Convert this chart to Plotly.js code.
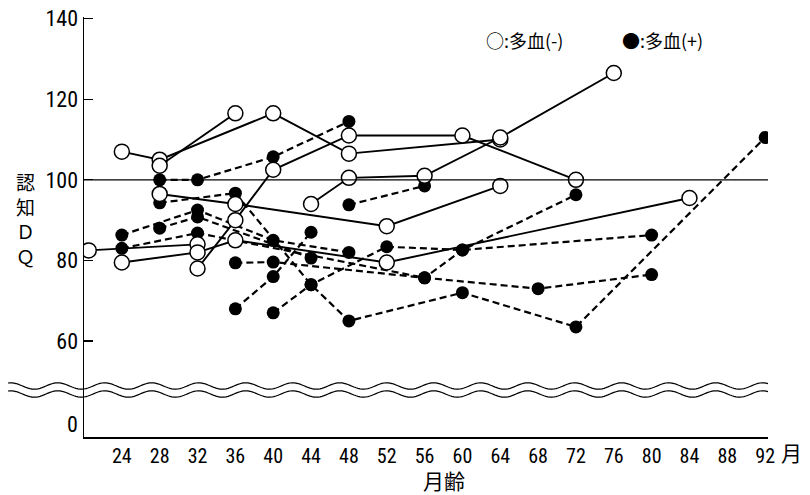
<!DOCTYPE html>
<html><head><meta charset="utf-8">
<script src="https://cdn.plot.ly/plotly-3.0.1.min.js"></script>
<style>body{margin:0;background:#fff}#c{width:810px;height:495px}</style>
</head><body><div id="c"></div>
<script>
// x tick labels (months) and y tick labels
const xTicks = [24,28,32,36,40,44,48,52,56,60,64,68,72,76,80,84,88,92];
const yTicks = [60,80,100,120,140];
const zeroLabelPos = 39.2;   // where the broken-axis "0" label sits
const refLine = 100;

// 多血(-) : open circles, solid lines
const n1x = [24,28,40,48,64],        n1y = [107,105,116.5,106.5,110];
const n2x = [28,36],                 n2y = [103.5,116.5];
const n3x = [32,36,40,48,60,72],     n3y = [78,90,102.5,111,111,100];
const n4x = [44,48,56,64,76],        n4y = [94,100.5,101,110.5,126.5];
const n5x = [28,36,52,64],           n5y = [96.5,94,88.5,98.5];
const n6x = [20.5,32],               n6y = [82.5,84];
const n7x = [24,32,36,52,84],        n7y = [79.5,82,85,79.5,95.5];

// 多血(+) : filled circles, dashed lines
const p1x = [28,32,40,48],           p1y = [100,100,105.7,114.5];
const p2x = [28,36,44,48,60,72,92],  p2y = [94.3,96.7,74,65,72,63.5,110.5];
const p3x = [40,44,52,60,80],        p3y = [67,74,83.4,82.6,86.3];
const p4x = [48,56],                 p4y = [93.8,98.5];
const p5x = [36,40,56,60,72],        p5y = [79.4,79.6,75.7,82.6,96.3];
const p6x = [36,40,44],              p6y = [68,76,87];
const p7x = [24,32,40,48],           p7y = [86.3,92.5,85,82];
const p8x = [24,32,56,68,80],        p8y = [83,86.8,75.7,73,76.5];
const p9x = [28,32,44],              p9y = [88,90.8,80.6];

const negSeries = [[n1x,n1y],[n2x,n2y],[n3x,n3y],[n4x,n4y],[n5x,n5y],[n6x,n6y],[n7x,n7y]];
const posSeries = [[p1x,p1y],[p2x,p2y],[p3x,p3y],[p4x,p4y],[p5x,p5y],[p6x,p6y],[p7x,p7y],[p8x,p8y],[p9x,p9y]];

const traces = [];
posSeries.forEach(([x,y]) => traces.push({
  x, y, type:'scatter', mode:'lines+markers', showlegend:false, hoverinfo:'skip',
  line:{color:'#000', width:2.2, dash:'7px,4px'},
  marker:{symbol:'circle', size:13, color:'#000'}
}));
negSeries.forEach(([x,y]) => traces.push({
  x, y, type:'scatter', mode:'lines+markers', showlegend:false, hoverinfo:'skip',
  line:{color:'#000', width:1.9},
  marker:{symbol:'circle', size:15, color:'#fff', line:{color:'#000', width:1.5}}
}));

// plot box in pixels: left 84, right 768, top 17, bottom 437
const L=84, R=768, T=17, B=437;
const px = v => (v-L)/(R-L), py = v => (B-v)/(B-T);
function wave(y0){
  let d='';
  for(let x=8; x<=768; x+=2){
    const y = y0 - 3.2*Math.sin((x-8)/47*2*Math.PI + 1.2);
    d += (d?' L ':'M ') + px(x).toFixed(5)+','+py(y).toFixed(5);
  }
  return d;
}

const narrow = '"Liberation Sans Narrow", "Roboto Condensed", "DejaVu Sans Condensed", "Liberation Sans", sans-serif';
const cjk = '"Noto Sans CJK JP", sans-serif';
function ann(text, x, y, size, fam, xa){
  return {text, xref:'paper', yref:'paper', x:px(x), y:py(y), xanchor:xa||'center', yanchor:'middle',
    showarrow:false, font:{family:fam, size, color:'#000'}};
}

const layout = {
  width:810, height:495,
  margin:{l:L, r:810-R, t:T, b:495-B},
  paper_bgcolor:'#fff', plot_bgcolor:'#fff',
  showlegend:false,
  xaxis:{range:[20,92.3], tickvals:xTicks, ticktext:xTicks.map(String),
    showline:true, linecolor:'#000', linewidth:1.5, ticks:'', showgrid:false, zeroline:false,
    tickfont:{family:narrow, size:20, color:'#000'}},
  yaxis:{range:[36.2,140.4], tickvals:yTicks, ticktext:yTicks.map(String),
    showline:true, linecolor:'#000', linewidth:1.5, ticks:'inside', ticklen:9, tickwidth:1.3, tickcolor:'#000',
    showgrid:false, zeroline:false, tickfont:{family:narrow, size:22, color:'#000'}},
  shapes:[
    {type:'line', xref:'paper', x0:0, x1:1, yref:'y', y0:refLine, y1:refLine, line:{color:'#000', width:1.1}},
    {type:'path', xref:'paper', yref:'paper', path:wave(386), line:{color:'#000', width:1.2}},
    {type:'path', xref:'paper', yref:'paper', path:wave(394), line:{color:'#000', width:1.2}}
  ],
  annotations:[
    {text:'0', xref:'paper', x:px(80), xanchor:'right', yref:'y', y:zeroLabelPos, yanchor:'middle', showarrow:false,
     font:{family:narrow, size:22, color:'#000'}},
    ann('月', 791, 452, 21, cjk),
    ann('月齢', 444, 480, 21, cjk),
    ann('認<br>知<br>Ｄ<br>Ｑ', 25, 219, 19, cjk),
    ann('○:多血(-)', 484, 40, 18, cjk, 'left'),
    ann('●:多血(+)', 620, 40, 18, cjk, 'left')
  ]
};
Plotly.newPlot('c', traces, layout, {displayModeBar:false, staticPlot:true});
</script></body></html>
